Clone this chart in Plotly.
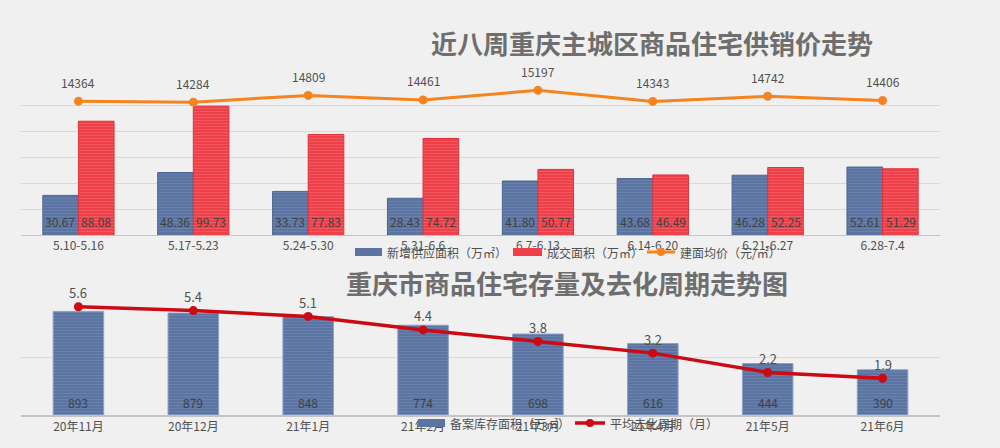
import plotly.graph_objects as go

weeks = ["5.10-5.16", "5.17-5.23", "5.24-5.30", "5.31-6.6", "6.7-6.13", "6.14-6.20", "6.21-6.27", "6.28-7.4"]
new_supply = [30.67, 48.36, 33.73, 28.43, 41.80, 43.68, 46.28, 52.61]
deal_area = [88.08, 99.73, 77.83, 74.72, 50.77, 46.49, 52.25, 51.29]
avg_price = [14364, 14284, 14809, 14461, 15197, 14343, 14742, 14406]

months = ["20年11月", "20年12月", "21年1月", "21年2月", "21年3月", "21年4月", "21年5月", "21年6月"]
stock_area = [893, 879, 848, 774, 698, 616, 444, 390]
cycle = [5.6, 5.4, 5.1, 4.4, 3.8, 3.2, 2.2, 1.9]

FONT = "Noto Sans CJK SC"
BLUE = "#5b74a2"
BLUE_D = "#4d6692"
RED = "#ef4049"
RED_D = "#e0323b"
ORANGE = "#f5841f"
DRED = "#cc0a14"
TXT = "#505050"
LBL = "#404040"
GRID = "#d9d9d9"

W, H = 1000, 448
def px_x(p):
    return p / W
def px_y(p):
    return 1 - p / H

fig = go.Figure()

fig.add_trace(go.Bar(
    x=weeks, y=new_supply, name="新增供应面积（万㎡）",
    xaxis="x", yaxis="y", width=0.31, offset=-0.31,
    marker=dict(color=BLUE, line=dict(color=BLUE_D, width=1),
                pattern=dict(shape="-", fillmode="replace", bgcolor=BLUE, fgcolor="#6a82ae", size=3, solidity=0.3)),
    showlegend=False,
))
fig.add_trace(go.Bar(
    x=weeks, y=deal_area, name="成交面积（万㎡）",
    xaxis="x", yaxis="y", width=0.31, offset=0,
    marker=dict(color=RED, line=dict(color=RED_D, width=1),
                pattern=dict(shape="-", fillmode="replace", bgcolor=RED, fgcolor="#f25a62", size=3, solidity=0.3)),
    showlegend=False,
))
fig.add_trace(go.Scatter(
    x=weeks, y=avg_price, name="建面均价（元/㎡）",
    xaxis="x", yaxis="y2", mode="lines+markers",
    line=dict(color=ORANGE, width=3), marker=dict(color=ORANGE, size=9),
    cliponaxis=False, showlegend=False,
))

fig.add_trace(go.Bar(
    x=months, y=stock_area, name="备案库存面积（万㎡）",
    xaxis="x2", yaxis="y3", width=0.44, offset=-0.22,
    marker=dict(color=BLUE, line=dict(color="#8ea2c6", width=1),
                pattern=dict(shape="-", fillmode="replace", bgcolor=BLUE, fgcolor="#6a82ae", size=3, solidity=0.3)),
    showlegend=False,
))
fig.add_trace(go.Scatter(
    x=months, y=cycle, name="平均去化周期（月）",
    xaxis="x2", yaxis="y4", mode="lines+markers",
    line=dict(color=DRED, width=3.5), marker=dict(color=DRED, size=9),
    cliponaxis=False, showlegend=False,
))

annotations = []
# value labels
for c, v in zip(weeks, new_supply):
    annotations.append(dict(x=c, y=0, xref="x", yref="y", text=f"{v:.2f}", showarrow=False,
                            xshift=-18, yshift=14, font=dict(size=12, color=LBL)))
for c, v in zip(weeks, deal_area):
    annotations.append(dict(x=c, y=0, xref="x", yref="y", text=f"{v:.2f}", showarrow=False,
                            xshift=18, yshift=14, font=dict(size=12, color=LBL)))
for c, v in zip(weeks, avg_price):
    annotations.append(dict(x=c, y=v, xref="x", yref="y2", text=str(v), showarrow=False,
                            yshift=19, font=dict(size=12, color=TXT)))
for c, v in zip(months, stock_area):
    annotations.append(dict(x=c, y=0, xref="x2", yref="y3", text=str(v), showarrow=False,
                            yshift=13, font=dict(size=12, color=LBL)))
for c, v in zip(months, cycle):
    annotations.append(dict(x=c, y=v, xref="x2", yref="y4", text=f"{v:.1f}", showarrow=False,
                            yshift=14, font=dict(size=13, color=TXT)))

# titles
annotations.append(dict(text="<b>近八周重庆主城区商品住宅供销价走势</b>", x=px_x(652), y=px_y(42),
                        xref="paper", yref="paper", showarrow=False,
                        font=dict(size=26, color="#6e6e6e"), xanchor="center", yanchor="middle"))
annotations.append(dict(text="<b>重庆市商品住宅存量及去化周期走势图</b>", x=px_x(567), y=px_y(282),
                        xref="paper", yref="paper", showarrow=False,
                        font=dict(size=26, color="#6e6e6e"), xanchor="center", yanchor="middle"))

# manual legends
shapes = []
def leg_rect(x0, x1, yc, color, text):
    shapes.append(dict(type="rect", xref="paper", yref="paper", x0=px_x(x0), x1=px_x(x1),
                       y0=px_y(yc + 4), y1=px_y(yc - 4), fillcolor=color, line=dict(width=0)))
    annotations.append(dict(text=text, x=px_x(x1 + 3), y=px_y(yc), xref="paper", yref="paper",
                            showarrow=False, xanchor="left", yanchor="middle",
                            font=dict(size=12, color=TXT)))
def leg_line(x0, x1, yc, color, text, lw):
    shapes.append(dict(type="line", xref="paper", yref="paper", x0=px_x(x0), x1=px_x(x1),
                       y0=px_y(yc), y1=px_y(yc), line=dict(color=color, width=lw)))
    m = (x0 + x1) / 2
    shapes.append(dict(type="circle", xref="paper", yref="paper", x0=px_x(m - 4), x1=px_x(m + 4),
                       y0=px_y(yc + 4), y1=px_y(yc - 4), fillcolor=color, line=dict(width=0)))
    annotations.append(dict(text=text, x=px_x(x1 + 3), y=px_y(yc), xref="paper", yref="paper",
                            showarrow=False, xanchor="left", yanchor="middle",
                            font=dict(size=12, color=TXT)))

leg_rect(355, 382, 252, BLUE, "新增供应面积（万㎡）")
leg_rect(513, 542, 252, RED, "成交面积（万㎡）")
leg_line(647, 675, 252, ORANGE, "建面均价（元/㎡）", 3)
leg_rect(418, 445, 423, BLUE, "备案库存面积（万㎡）")
leg_line(575, 605, 423, DRED, "平均去化周期（月）", 3.5)

xdom = [0.021, 0.940]
fig.update_layout(
    width=W, height=H,
    margin=dict(l=0, r=0, t=0, b=0),
    paper_bgcolor="#f0f0f0", plot_bgcolor="rgba(0,0,0,0)",
    font=dict(family=FONT, color=TXT, size=12),
    barmode="overlay",
    showlegend=False,
    xaxis=dict(domain=xdom, anchor="y", type="category", showgrid=False,
               showline=True, linecolor="#c4c4c4", linewidth=1, ticks="",
               tickfont=dict(size=12, color=TXT)),
    yaxis=dict(domain=[px_y(235), px_y(80)], anchor="x", range=[0, 120], dtick=20,
               showgrid=True, gridcolor=GRID, gridwidth=1, showticklabels=False, zeroline=False),
    yaxis2=dict(overlaying="y", anchor="x", range=[4000, 16000], showgrid=False,
                showticklabels=False, zeroline=False),
    xaxis2=dict(domain=xdom, anchor="y3", type="category", showgrid=False,
                showline=True, linecolor="#c4c4c4", linewidth=2, ticks="",
                tickfont=dict(size=12, color=TXT)),
    yaxis3=dict(domain=[px_y(415), px_y(299)], anchor="x2", range=[0, 1000], dtick=500,
                showgrid=True, gridcolor=GRID, gridwidth=1, showticklabels=False, zeroline=False),
    yaxis4=dict(overlaying="y3", anchor="x2", range=[0, 6], showgrid=False,
                showticklabels=False, zeroline=False),
    annotations=annotations,
    shapes=shapes,
)

fig.write_html("out.html", config={"displayModeBar": False},
               post_script="document.body.style.margin='0';document.body.style.background='#f0f0f0';")
